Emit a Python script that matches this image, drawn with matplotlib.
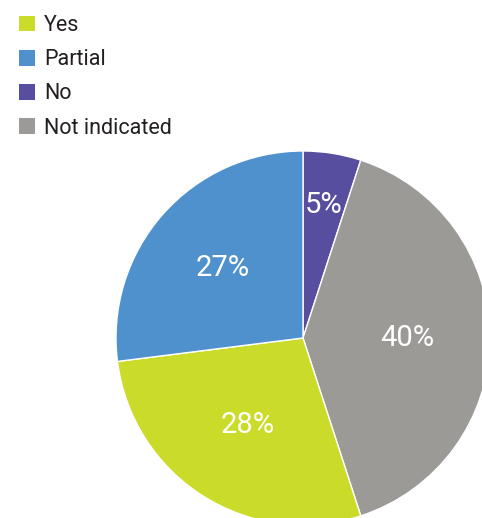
import matplotlib
matplotlib.use("Agg")
import matplotlib.pyplot as plt
from matplotlib.patches import Patch
import numpy as np

# Dados
legend_labels = ["Yes", "Partial", "No", "Not indicated"]
legend_colors = ["#cbdb2a", "#4f91cd", "#574e9f", "#9b9a96"]

# fatias no sentido horario a partir do topo
slice_labels = ["No", "Not indicated", "Yes", "Partial"]
slice_values = [5, 40, 28, 27]
label_dist = [0.72, 0.56, 0.55, 0.57]

plt.rcParams["font.family"] = ["Roboto", "DejaVu Sans"]

W, H = 482, 518
fig = plt.figure(figsize=(W / 100, H / 100), dpi=100)
ax = fig.add_axes([0, 0, 1, 1])

color_map = dict(zip(legend_labels, legend_colors))
cx, cy, r = 303, H - 338, 187
wedges, _ = ax.pie(slice_values, colors=[color_map[s] for s in slice_labels],
                   startangle=90, counterclock=False, center=(cx, cy), radius=r,
                   frame=True, wedgeprops=dict(edgecolor="white", linewidth=1))

for w, v, d in zip(wedges, slice_values, label_dist):
    ang = np.deg2rad((w.theta1 + w.theta2) / 2)
    ax.text(cx + d * r * np.cos(ang), cy + d * r * np.sin(ang), f"{v}%",
            ha="center", va="center", color="white", fontsize=21)

ax.set_xlim(0, W)
ax.set_ylim(0, H)
ax.set_aspect("equal")
ax.axis("off")

handles = [Patch(facecolor=c, edgecolor="none") for c in legend_colors]
fig.legend(handles, legend_labels, loc="upper left", bbox_to_anchor=(0.0, 1.008),
           frameon=False, fontsize=15.5, handlelength=0.72, handleheight=0.72,
           handletextpad=0.42, labelspacing=0.61, labelcolor="#231f20")

fig.savefig("out.png", dpi=100)
